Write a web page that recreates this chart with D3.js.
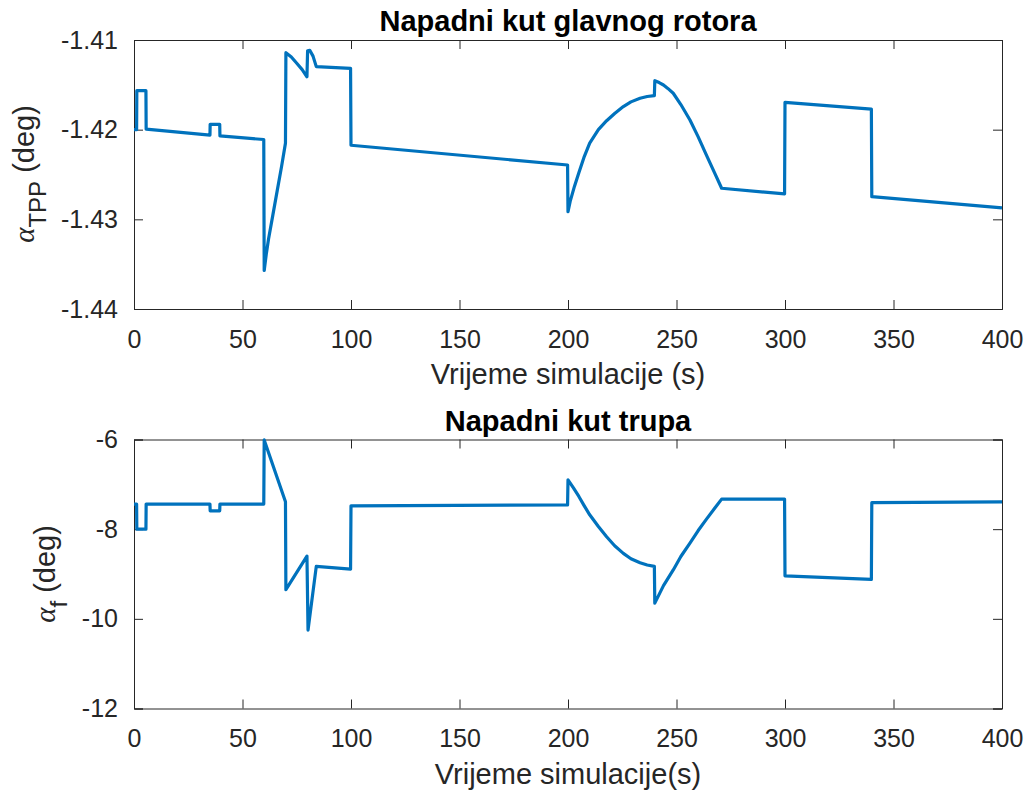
<!DOCTYPE html>
<html lang="en">
<head>
<meta charset="UTF-8">
<title>napadni-kut</title>
<script src="https://cdn.jsdelivr.net/npm/d3@7"></script>
<style>
  body { margin: 0; background: #fff; }
  text { font-family: "Liberation Sans", Arial, sans-serif; fill: #262626; }
  .title { font-weight: bold; fill: #000; }
</style>
</head>
<body>
<script>
// data
let timeTicks = [0, 50, 100, 150, 200, 250, 300, 350, 400];
let topTicks = [-1.44, -1.43, -1.42, -1.41];
let botTicks = [-12, -10, -8, -6];

let topTime = [0, 1.2, 1.3, 5.5, 5.6, 35, 35.1, 39.5, 39.6, 59.8,
  60, 61, 62, 64, 66, 68, 69.8,
  70, 72.5, 75, 77.5, 79.7, 80, 81, 82.5, 84, 99.8, 100, 199.8,
  200, 201, 203, 205, 207.5, 210, 214, 217.8, 221.5, 225.5, 229, 233.2, 236.5, 239.8,
  240, 242, 244, 246, 248.5, 252, 256.2, 260, 263.9, 267.5, 270.8,
  299.8, 300, 339.8, 340, 400];
let topAngle = [-1.4200, -1.4200, -1.41565, -1.41565, -1.41995, -1.4206, -1.4194, -1.4194, -1.4207, -1.4211,
  -1.4357, -1.4338, -1.4322, -1.4295, -1.4268, -1.4241, -1.4215,
  -1.41141, -1.4119, -1.4126, -1.4133, -1.4141, -1.4112, -1.41115, -1.4118, -1.41297, -1.41316, -1.42174, -1.42394,
  -1.42914, -1.4280, -1.4263, -1.4248, -1.4230, -1.4215, -1.4200, -1.4190, -1.4182, -1.41743, -1.4169, -1.4165, -1.4163, -1.41621,
  -1.41454, -1.41475, -1.41502, -1.4154, -1.41594, -1.4172, -1.41892, -1.4208, -1.4229, -1.4248, -1.42653,
  -1.42717, -1.41695, -1.4177, -1.42747, -1.42873];

let botTime = [0, 1.2, 1.3, 5.5, 5.6, 35, 35.1, 39.5, 39.6, 59.8, 60, 69.8, 70, 79.7, 80.2, 84, 99.8, 100, 199.8,
  200, 202.5, 205, 207.5, 210, 214, 217.8, 221.5, 225.5, 229, 233.2, 236.5, 239.8,
  240, 244, 248.5, 252, 256.2, 260, 263.9, 267.5, 270.8,
  299.8, 300, 339.8, 340, 400];
let botAngle = [-7.44, -7.44, -8.0, -8.0, -7.44, -7.44, -7.59, -7.59, -7.44, -7.44, -6.01, -7.39, -9.35, -8.60, -10.25, -8.83,
  -8.89, -7.48, -7.46,
  -6.90, -7.08, -7.27, -7.48, -7.68, -7.94, -8.17, -8.37, -8.54, -8.66, -8.75, -8.80, -8.83,
  -9.65, -9.26, -8.91, -8.61, -8.31, -8.03, -7.77, -7.54, -7.33,
  -7.33, -9.04, -9.12, -7.41, -7.39];

let width = 1027, height = 794;
let left = 134, right = 1002;
let lineColor = '#0072bd';

let svg = d3.select('body').append('svg')
  .attr('width', width)
  .attr('height', height);

let x = d3.scaleLinear().domain([0, 400]).range([left, right]);

function drawPanel(p) {
  let y = d3.scaleLinear().domain(p.domain).range([p.bottom, p.top]);
  let g = svg.append('g');

  let line = d3.line()
    .x(d => x(d[0]))
    .y(d => y(d[1]));

  // axes, ticks pointing in like matlab
  let tickLen = 9;
  let axB = g.append('g').attr('transform', 'translate(0,' + p.bottom + ')')
    .call(d3.axisBottom(x).tickValues(timeTicks).tickSize(-tickLen).tickPadding(21).tickFormat(d => String(d)));
  let axT = g.append('g').attr('transform', 'translate(0,' + p.top + ')')
    .call(d3.axisTop(x).tickValues(timeTicks).tickSize(-tickLen).tickFormat(''));
  let axL = g.append('g').attr('transform', 'translate(' + left + ',0)')
    .call(d3.axisLeft(y).tickValues(p.ticks).tickSize(-tickLen).tickPadding(16).tickFormat(d => String(d)));
  let axR = g.append('g').attr('transform', 'translate(' + right + ',0)')
    .call(d3.axisRight(y).tickValues(p.ticks).tickSize(-tickLen).tickFormat(''));

  [axB, axT, axL, axR].forEach(a => {
    a.selectAll('path, line').attr('stroke', '#262626').attr('stroke-width', 1);
    a.selectAll('text').style('font-size', '25px').attr('fill', '#262626');
  });

  g.append('path')
    .datum(p.t.map((t, i) => [t, p.v[i]]))
    .attr('d', line)
    .attr('fill', 'none')
    .attr('stroke', lineColor)
    .attr('stroke-width', 3.2)
    .attr('stroke-linejoin', 'round');

  g.append('text')
    .attr('class', 'title')
    .attr('x', (left + right) / 2).attr('y', p.top - 9)
    .attr('text-anchor', 'middle')
    .style('font-size', '29px')
    .text(p.title);

  g.append('text')
    .attr('x', (left + right) / 2).attr('y', p.bottom + 75)
    .attr('text-anchor', 'middle')
    .style('font-size', '29px')
    .text(p.xlabel);

  let yl = g.append('text')
    .attr('transform', 'translate(' + p.ylabelX + ',' + p.ylabelY + ') rotate(-90)')
    .attr('text-anchor', 'middle')
    .style('font-size', '29px');
  yl.append('tspan').style('font-family', '"Liberation Serif", serif').style('font-style', 'italic').text('α');
  yl.append('tspan').attr('dy', 12).style('font-size', '24px').text(p.sub);
  yl.append('tspan').attr('dy', -12).text(' (deg)');
}

drawPanel({
  top: 40, bottom: 309, domain: [-1.44, -1.41], ticks: topTicks,
  t: topTime, v: topAngle, title: 'Napadni kut glavnog rotora', xlabel: 'Vrijeme simulacije (s)', sub: 'TPP',
  ylabelX: 34, ylabelY: 174
});
drawPanel({
  top: 439.5, bottom: 708.5, domain: [-12, -6], ticks: botTicks,
  t: botTime, v: botAngle, title: 'Napadni kut trupa', xlabel: 'Vrijeme simulacije(s)', sub: 'f',
  ylabelX: 55, ylabelY: 574
});
</script>
</body>
</html>
